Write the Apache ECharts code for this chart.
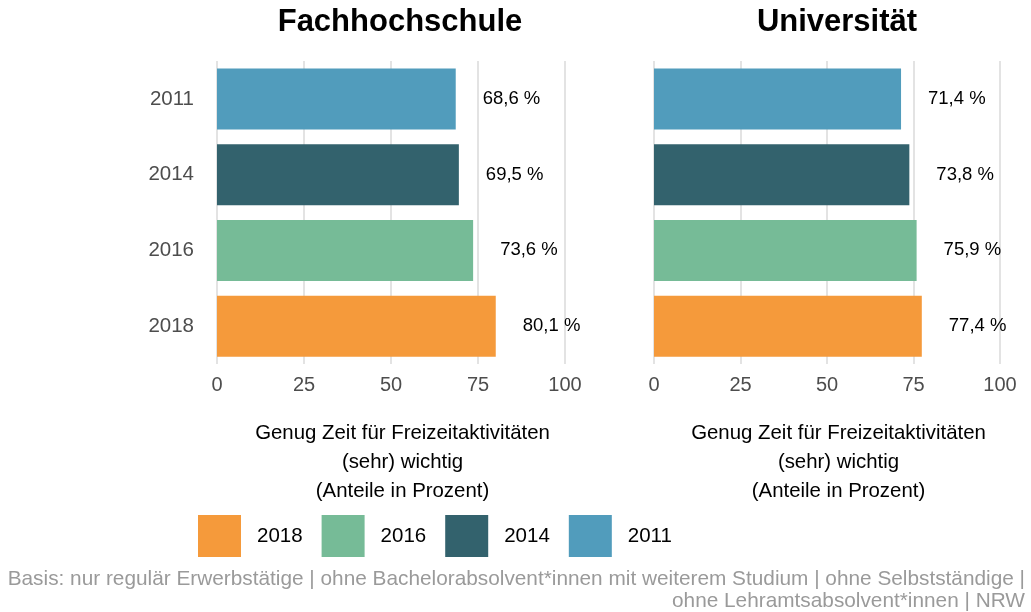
<!DOCTYPE html>
<html>
<head>
<meta charset="utf-8">
<script src="https://cdn.jsdelivr.net/npm/echarts@6/dist/echarts.min.js"></script>
<style>
  html, body { margin: 0; padding: 0; background: #ffffff; }
  #chart { width: 1031px; height: 612px; }
</style>
</head>
<body>
<div id="chart"></div>
<script>
// Survey years shown on the category axis (top to bottom)
const years = ['2011', '2014', '2016', '2018'];
// Legend order
const legendYears = ['2018', '2016', '2014', '2011'];
// Share (%) rating "enough time for leisure activities" as (very) important
const fachhochschule = [68.6, 69.5, 73.6, 80.1];
const universitaet = [71.4, 73.8, 75.9, 77.4];
const panelTitles = ['Fachhochschule', 'Universität'];
const xTicks = [0, 25, 50, 75, 100];
const axisName = 'Genug Zeit für Freizeitaktivitäten\n(sehr) wichtig\n(Anteile in Prozent)';
const footnote = 'Basis: nur regulär Erwerbstätige | ohne Bachelorabsolvent*innen mit weiterem Studium | ohne Selbstständige |\nohne Lehramtsabsolvent*innen | NRW';

const FONT = 'Liberation Sans, Arial, sans-serif';

const yearColors = {
  '2011': '#519cbc',
  '2014': '#33626d',
  '2016': '#76bb97',
  '2018': '#f59a3b'
};

const fmt = v => v.toFixed(1).replace('.', ',') + ' %';

function panelSeries(values, idx) {
  return years.map((y, i) => ({
    name: y,
    type: 'bar',
    xAxisIndex: idx,
    yAxisIndex: idx,
    stack: 'panel' + idx,
    barWidth: 61,
    itemStyle: { color: yearColors[y] },
    label: {
      show: true,
      position: 'right',
      distance: 27,
      color: '#000000',
      fontSize: 18.5,
      fontFamily: FONT,
      formatter: p => fmt(p.value)
    },
    data: years.map((yy, j) => (j === i ? values[i] : '-'))
  }));
}

const gridLines = { show: true, lineStyle: { color: '#e3e3e3', width: 2 } };

const xAxisCommon = {
  type: 'value',
  min: 0,
  max: 100,
  interval: 25,
  axisLine: { show: false },
  axisTick: { show: false },
  splitLine: gridLines,
  axisLabel: {
    color: '#4d4d4d',
    fontSize: 20,
    margin: 11,
    fontFamily: FONT,
    customValues: xTicks
  },
  name: axisName,
  nameLocation: 'middle',
  nameGap: 55,
  nameTextStyle: {
    color: '#000000',
    fontSize: 20.4,
    lineHeight: 29,
    padding: [0, 0, 0, 23],
    fontFamily: FONT
  }
};

const yAxisCommon = {
  type: 'category',
  data: years,
  inverse: true,
  axisLine: { show: false },
  axisTick: { show: false },
  splitLine: { show: false }
};

const chart = echarts.init(document.getElementById('chart'), null, { renderer: 'canvas' });

chart.setOption({
  animation: false,
  backgroundColor: '#ffffff',
  grid: [
    { left: 217, width: 348, top: 61, height: 303 },
    { left: 654, width: 346, top: 61, height: 303 }
  ],
  xAxis: [
    Object.assign({ gridIndex: 0 }, xAxisCommon),
    Object.assign({ gridIndex: 1 }, xAxisCommon)
  ],
  yAxis: [
    Object.assign({ gridIndex: 0 }, yAxisCommon, {
      axisLabel: {
        color: '#4d4d4d',
        fontSize: 20.5,
        margin: 23,
        fontFamily: FONT
      }
    }),
    Object.assign({ gridIndex: 1 }, yAxisCommon, { axisLabel: { show: false } })
  ],
  legend: {
    data: legendYears,
    left: 198,
    top: 515,
    padding: 0,
    icon: 'rect',
    itemWidth: 43,
    itemHeight: 42,
    itemGap: 19,
    selectedMode: false,
    textStyle: {
      color: '#000000',
      fontSize: 20.5,
      padding: [0, 0, 0, 11],
      fontFamily: FONT
    }
  },
  graphic: [
    {
      type: 'text', x: 400, y: 22,
      style: {
        text: panelTitles[0], fill: '#000000', fontSize: 31, fontWeight: 'bold',
        fontFamily: FONT, align: 'center', verticalAlign: 'middle'
      }
    },
    {
      type: 'text', x: 837, y: 22,
      style: {
        text: panelTitles[1], fill: '#000000', fontSize: 31, fontWeight: 'bold',
        fontFamily: FONT, align: 'center', verticalAlign: 'middle'
      }
    },
    {
      type: 'text', x: 1025, y: 568,
      style: {
        text: footnote, fill: '#9a9a9a', fontSize: 20.8, lineHeight: 22,
        fontFamily: FONT, align: 'right', verticalAlign: 'top'
      }
    }
  ],
  series: panelSeries(fachhochschule, 0).concat(panelSeries(universitaet, 1))
});
</script>
</body>
</html>
